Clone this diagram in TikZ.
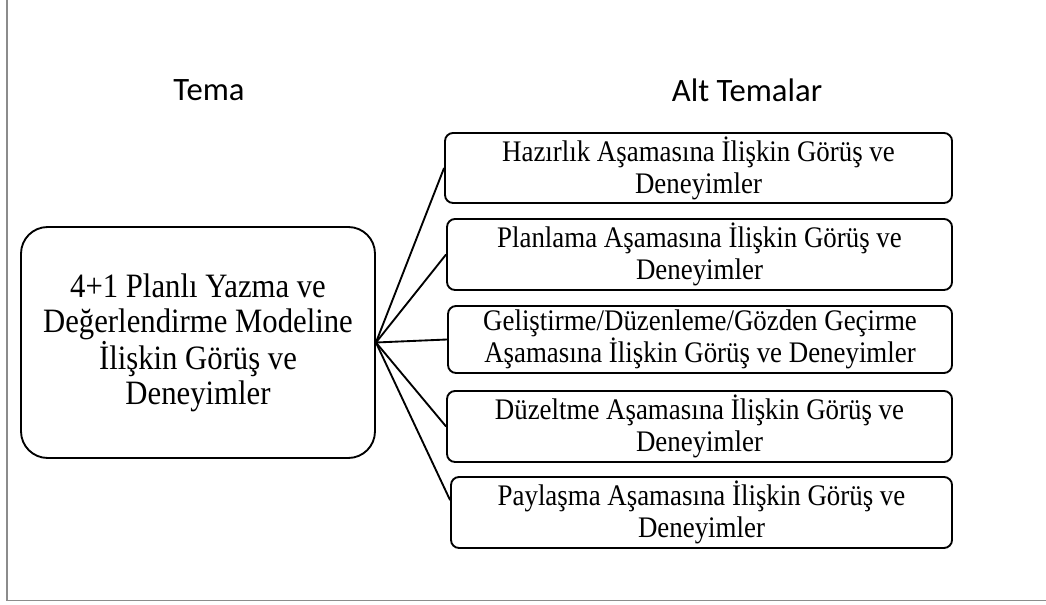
\documentclass[tikz,border=0pt]{standalone}
\usepackage{fontspec}
\usetikzlibrary{calc}
\setmainfont{Liberation Serif}
\newfontfamily\hdfont{Carlito}
\newfontfamily\boxfont[FakeStretch=0.9]{Liberation Serif}
\begin{document}
\begin{tikzpicture}[x=0.75pt,y=-0.75pt,
  frameline/.style={draw=black!45,line width=1.1pt},
  heading/.style={font=\hdfont\fontsize{24.5}{29}\selectfont,inner sep=0pt},
  themebox/.style={draw,line width=1.4pt,rounded corners=20pt,inner sep=0pt,
    align=center,font=\boxfont\fontsize{25.6}{26.3}\selectfont},
  subbox/.style={draw,line width=1.4pt,rounded corners=6pt,inner sep=0pt,
    align=center,font=\boxfont\fontsize{22.4}{24}\selectfont},
  link/.style={line width=1.4pt}]
\useasboundingbox (0,0) rectangle (1046,605);
% page frame (left and bottom edges)
\coordinate (ftop) at (7,0);
\coordinate (fcorner) at (7,600.5);
\coordinate (fright) at (1046,600.5);
\draw[frameline] (ftop) -- (fcorner) -- (fright);
% column headings
\node[heading] (h1) at (209,90) {Tema};
\node[heading] (h2) at (747,90) {Alt Temalar};
% main theme
\node[themebox,minimum width=265.5pt,minimum height=173.25pt] (main) at (198,342.5)
  {4+1 Planlı Yazma ve\\Değerlendirme Modeline\\İlişkin Görüş ve\\Deneyimler};
% sub-themes
\node[subbox,minimum width=380.25pt,minimum height=52.5pt] (s1) at (698.5,168)
  {Hazırlık Aşamasına İlişkin Görüş ve\\Deneyimler};
\node[subbox,minimum width=378.75pt,minimum height=53.25pt] (s2) at (699.5,254.5)
  {Planlama Aşamasına İlişkin Görüş ve\\Deneyimler};
\node[subbox,minimum width=378pt,minimum height=50.25pt] (s3) at (700,339.5)
  {Geliştirme/Düzenleme/Gözden Geçirme\\Aşamasına İlişkin Görüş ve Deneyimler};
\node[subbox,minimum width=378.75pt,minimum height=53.25pt] (s4) at (699.5,426.5)
  {Düzeltme Aşamasına İlişkin Görüş ve\\Deneyimler};
\node[subbox,minimum width=375.75pt,minimum height=53.25pt] (s5) at (701.5,512.5)
  {Paylaşma Aşamasına İlişkin Görüş ve\\Deneyimler};
% connectors
\foreach \s in {s1,s2,s3,s4}
  \draw[link] (main.east) -- (\s.west);
\draw[link] (main.east) -- ($(s5.north west)!0.33!(s5.south west)$);
\end{tikzpicture}
\end{document}
